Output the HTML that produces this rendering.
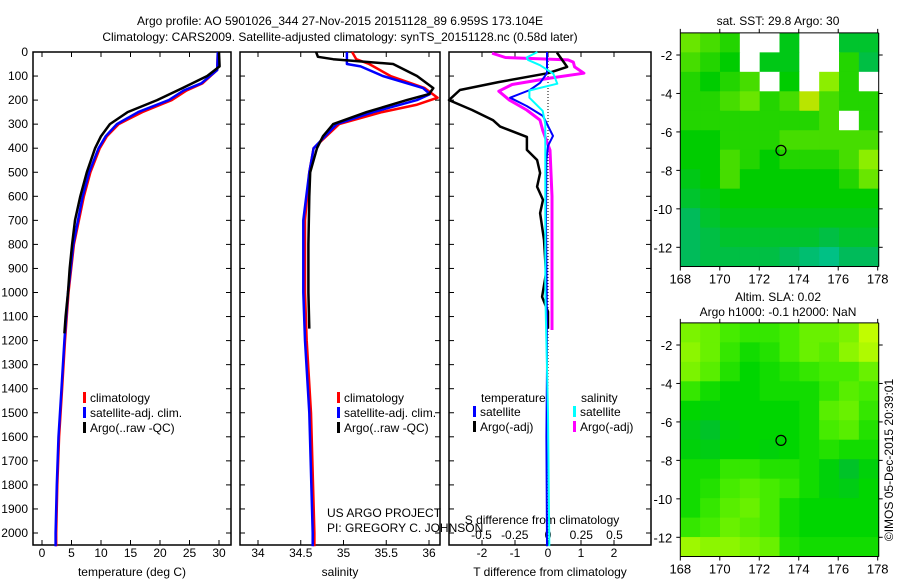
<!DOCTYPE html>
<html><head><meta charset="utf-8"><style>
body{margin:0;background:#fff}
svg{display:block;font-family:"Liberation Sans",sans-serif}
</style></head><body>
<svg id="c" width="900" height="580" viewBox="0 0 900 580" font-size="12"></svg>
<script>
// ---- data ----
const depthTicks=[0,100,200,300,400,500,600,700,800,900,1000,1100,1200,1300,1400,1500,1600,1700,1800,1900,2000];
const tempTicks=[0,5,10,15,20,25,30];
const salTicks=[34,34.5,35,35.5,36];
const tdTicks=[-2,-1,0,1,2];
const sdTicks=[-0.5,-0.25,0,0.25,0.5];
const tClimD=[0,75,130,160,200,250,300,350,400,500,600,800,1000,1200,1400,1600,1800,2000,2055];
const tClim=[29.8,29.7,27.2,24.5,22,17,13,11,9.8,8.2,7.1,5.4,4.5,3.9,3.4,2.9,2.6,2.4,2.4];
const tSatD=[0,75,130,160,200,250,300,350,400,500,600,800,1000,1200,1400,1600,1800,2000,2055];
const tSat=[29.8,29.7,27,24,21.5,16.3,12.7,10.8,9.6,8.0,6.9,5.3,4.4,3.8,3.3,2.8,2.5,2.3,2.3];
const tArgoD=[0,60,100,150,200,250,300,350,400,500,600,700,800,900,1000,1100,1170];
const tArgo=[30,30.1,28,23.8,19.5,14.5,11.5,10,9,7.6,6.5,5.6,5.1,4.7,4.4,4.0,3.8];
const sClimD=[0,30,50,100,150,190,220,250,300,400,500,700,1000,1200,1500,2000,2055];
const sClim=[35.1,35.15,35.3,35.55,35.95,36.1,35.85,35.45,34.95,34.65,34.6,34.55,34.55,34.57,34.62,34.66,34.66];
const sSatD=[0,50,60,100,150,175,200,250,300,400,500,700,1000,1200,1500,2000,2055];
const sSat=[35.04,35.04,35.2,35.46,35.93,36.01,35.86,35.35,34.92,34.65,34.6,34.53,34.53,34.55,34.6,34.64,34.64];
const sArgoD=[0,20,30,50,100,150,175,200,250,300,350,400,500,600,800,1000,1150];
const sArgo=[34.68,34.7,34.88,35.58,35.86,36.05,36.0,35.74,35.27,34.88,34.76,34.69,34.61,34.6,34.59,34.59,34.6];
const dTArgoD=[2,62,88,125,158,200,241,283,310,353,407,449,503,560,615,670,781,920,1018,1080,1150];
const dTArgo=[0.27,0.58,0,-1.5,-2.67,-3.0,-2.3,-1.67,-1.45,-0.64,-0.64,-0.33,-0.24,-0.33,-0.15,-0.24,-0.12,-0.06,-0.18,0,0];
const dTSatD=[0,88,128,158,190,225,266,349,390,450,700,1000,1300,1600,2055];
const dTSat=[-0.03,-0.03,-0.24,-0.55,-1.15,-0.64,-0.15,0.15,0,-0.05,-0.06,-0.04,-0.03,-0.05,-0.03];
const dSArgoD=[5,23,33,42,62,88,108,135,163,200,241,283,325,408,600,900,1156];
const dSArgo=[-0.42,-0.32,0.15,0.19,0.2,0.27,0.02,-0.27,-0.37,-0.29,-0.16,-0.06,-0.04,0.015,0.03,0.03,0.03];
const dSSatD=[0,23,33,55,90,132,160,190,245,300,600,1000,1500,2055];
const dSSat=[-0.08,-0.16,-0.15,-0.06,0.04,0.07,-0.14,-0.14,-0.04,-0.02,-0.02,-0.02,0,0.01];
const lonTicks=[168,170,172,174,176,178];
const latTicks=[-2,-4,-6,-8,-10,-12];
const sstGrid=[
[.65,.6,.55,null,null,.45,null,null,.4,.4],
[.6,.55,.5,null,.45,.45,null,null,.55,.35],
[.55,.5,.55,.6,null,.5,null,.7,.55,null],
[.55,.55,.6,.65,.55,.6,.85,.6,.55,.55],
[.55,.55,.55,.55,.55,.55,.55,.6,null,.55],
[.5,.5,.55,.55,.55,.6,.6,.6,.6,.6],
[.5,.5,.6,.55,.5,.55,.55,.55,.6,.7],
[.45,.5,.6,.5,.5,.5,.5,.5,.55,.65],
[.4,.45,.5,.5,.5,.5,.5,.5,.5,.5],
[.3,.4,.45,.45,.45,.45,.45,.45,.45,.45],
[.3,.35,.4,.4,.4,.4,.4,.35,.4,.4],
[.3,.35,.35,.35,.35,.3,.25,.2,.3,.3]];
const slaGrid=[
[.75,.7,.6,.55,.55,.6,.7,.7,.75,.95],
[.8,.7,.55,.45,.5,.6,.7,.65,.8,.9],
[.75,.65,.5,.4,.45,.5,.55,.6,.6,.7],
[.55,.45,.4,.4,.45,.45,.45,.55,.65,.6],
[.4,.35,.4,.4,.4,.4,.45,.65,.7,.55],
[.3,.2,.35,.4,.4,.4,.45,.6,.65,.5],
[.35,.3,.4,.4,.35,.4,.45,.5,.45,.45],
[.45,.45,.55,.55,.5,.5,.45,.35,.2,.35],
[.45,.5,.6,.65,.6,.55,.45,.35,.3,.4],
[.45,.55,.65,.7,.6,.45,.4,.4,.4,.4],
[.55,.6,.7,.65,.6,.45,.4,.4,.4,.4],
[.85,.8,.8,.75,.7,.5,.45,.45,.45,.45]];
const floatLon=173.1, floatLat=-6.96;

// ---- helpers ----
const SV=document.getElementById('c');const NS='http://www.w3.org/2000/svg';
function el(t,a,p){const e=document.createElementNS(NS,t);for(const k in a)e.setAttribute(k,a[k]);(p||SV).appendChild(e);return e;}
function txt(x,y,s,anchor,name,extra){const e=el('text',Object.assign({x:x,y:y,'text-anchor':anchor||'start'},extra||{}));e.textContent=s;


return e;}
const Y=d=>52+d*0.2405;
const pTop=52,pBot=545;
function frame(x0,x1,name){const r=el('rect',{x:x0,y:pTop,width:x1-x0,height:pBot-pTop,fill:'none',stroke:'#000','stroke-width':1.5});


depthTicks.forEach(d=>{el('line',{x1:x0,x2:x0+5,y1:Y(d),y2:Y(d),stroke:'#000'});el('line',{x1:x1-5,x2:x1,y1:Y(d),y2:Y(d),stroke:'#000'});});}
function drawLine(xs,ds,fx,color,name,w){const p=xs.map((v,i)=>(i?'L':'M')+fx(v).toFixed(1)+','+Y(ds[i]).toFixed(1)).join('');
const e=el('path',{d:p,fill:'none',stroke:color,'stroke-width':w||2.5,'stroke-linejoin':'round'});

}
function xticks(ticks,fx,yb,name){ticks.forEach(t=>{el('line',{x1:fx(t),x2:fx(t),y1:pBot,y2:pBot-5,stroke:'#000'});el('line',{x1:fx(t),x2:fx(t),y1:pTop,y2:pTop+5,stroke:'#000'});txt(fx(t),yb,String(t),'middle',name);});}
function legItem(x,y,color,label,name){const r=el('rect',{x:x,y:y-6,width:3,height:11,fill:color});


txt(x+7,y+4,label,'start',name);}

// titles
txt(340,25,'Argo profile: AO 5901026_344 27-Nov-2015 20151128_89 6.959S 173.104E','middle','title-line-1');
txt(340,41,'Climatology: CARS2009. Satellite-adjusted climatology: synTS_20151128.nc (0.58d later)','middle','title-line-2');

// panel 1 temperature
const fT=v=>42+v*5.9;
frame(33,231,'temperature-panel');
depthTicks.forEach(d=>txt(28,Y(d)+4,String(d),'end','depth-tick-label'));
xticks(tempTicks,fT,557,'temperature-tick-label');
txt(132,576,'temperature (deg C)','middle','temperature-axis-title');
drawLine(tClim,tClimD,fT,'#ff0000','temp-climatology-line');
drawLine(tSat,tSatD,fT,'#0000ff','temp-satellite-line');
drawLine(tArgo,tArgoD,fT,'#000','temp-argo-line');
legItem(83,398,'#f00','climatology','legend-climatology');
legItem(83,413,'#00f','satellite-adj. clim.','legend-satellite-adj');
legItem(83,428,'#000','Argo(..raw -QC)','legend-argo');

// panel 2 salinity
const fS=v=>258+(v-34)*85.5;
frame(240,440,'salinity-panel');
xticks(salTicks,fS,557,'salinity-tick-label');
txt(340,576,'salinity','middle','salinity-axis-title');
drawLine(sClim,sClimD,fS,'#ff0000','sal-climatology-line');
drawLine(sSat,sSatD,fS,'#0000ff','sal-satellite-line');
drawLine(sArgo,sArgoD,fS,'#000','sal-argo-line');
legItem(337,398,'#f00','climatology','legend-climatology-2');
legItem(337,413,'#00f','satellite-adj. clim.','legend-satellite-adj-2');
legItem(337,428,'#000','Argo(..raw -QC)','legend-argo-2');
txt(327,517,'US ARGO PROJECT','start','project-label');
txt(327,532,'PI: GREGORY C. JOHNSON','start','pi-label');

// panel 3 differences
const fdT=v=>548+v*33, fdS=v=>548+v*133;
frame(449,651,'difference-panel');
el('line',{x1:548,x2:548,y1:pTop,y2:pBot,stroke:'#000','stroke-dasharray':'1,2'});
tdTicks.forEach(t=>{el('line',{x1:fdT(t),x2:fdT(t),y1:pBot,y2:pBot-5,stroke:'#000'});el('line',{x1:fdT(t),x2:fdT(t),y1:pTop,y2:pTop+5,stroke:'#000'});txt(fdT(t),557,String(t),'middle','t-diff-tick-label');});
sdTicks.forEach(t=>txt(fdS(t),539,String(t),'middle','s-diff-tick-label'));
txt(542,524,'S difference from climatology','middle','s-diff-axis-title');
txt(550,576,'T difference from climatology','middle','t-diff-axis-title');
drawLine(dSArgo,dSArgoD,fdS,'#ff00ff','s-diff-argo-line',3);
drawLine(dTArgo,dTArgoD,fdT,'#000','t-diff-argo-line',2.5);
drawLine(dTSat,dTSatD,fdT,'#0000ff','t-diff-satellite-line',2);
drawLine(dSSat,dSSatD,fdS,'#00ffff','s-diff-satellite-line',2);
txt(481,402,'temperature','start','legend-temperature-header');
txt(581,402,'salinity','start','legend-salinity-header');
legItem(473,412,'#00f','satellite','legend-t-satellite');
legItem(473,427,'#000','Argo(-adj)','legend-t-argo');
legItem(573,412,'#0ff','satellite','legend-s-satellite');
legItem(573,427,'#f0f','Argo(-adj)','legend-s-argo');

// maps
function lerp(a,b,t){return a.map((v,i)=>Math.round(v+(b[i]-v)*t));}
function sstColor(v){const stops=[[0,[0,204,220]],[0.3,[0,187,90]],[0.5,[0,204,0]],[0.7,[140,238,0]],[1,[230,220,0]]];
for(let i=1;i<stops.length;i++)if(v<=stops[i][0]){const t=(v-stops[i-1][0])/(stops[i][0]-stops[i-1][0]);return 'rgb('+lerp(stops[i-1][1],stops[i][1],t)+')';}return 'rgb(230,220,0)';}
function slaColor(v){const stops=[[0,[0,176,80]],[0.4,[0,214,0]],[0.6,[70,236,0]],[1,[210,255,0]]];
for(let i=1;i<stops.length;i++)if(v<=stops[i][0]){const t=(v-stops[i-1][0])/(stops[i][0]-stops[i-1][0]);return 'rgb('+lerp(stops[i-1][1],stops[i][1],t)+')';}return 'rgb(210,255,0)';}
function drawMap(grid,yTop,colorFn,name){
 const fx=lon=>680.3+(lon-168)*19.74, fy=lat=>yTop+22+(-2-lat)*19.23;
 const latTop=-0.85, latBot=-13;
 const g=el('g',{});
 const nr=grid.length,nc=grid[0].length;
 grid.forEach((row,r)=>row.forEach((v,c)=>{const la0=latTop+(latBot-latTop)*r/nr,la1=latTop+(latBot-latTop)*(r+1)/nr;
  const x0=fx(168+10.05*c/nc),x1=fx(168+10.05*(c+1)/nc);
  const cell=el('rect',{x:x0,y:fy(la0),width:x1-x0+0.5,height:fy(la1)-fy(la0)+0.5,fill:v===null?'#fff':colorFn(v)},g);
  
  }));
 const x0=fx(168),x1=fx(178.05),y0=fy(latTop),y1=fy(latBot);
 el('line',{x1:x0,x2:x1,y1:y0,y2:y0,stroke:'#000'});el('line',{x1:x0,x2:x1,y1:y1,y2:y1,stroke:'#000'});
 el('line',{x1:x0,x2:x0,y1:y0,y2:y1,stroke:'#000'});el('line',{x1:x1,x2:x1,y1:y0,y2:y1,stroke:'#000'});
 lonTicks.forEach(l=>{el('line',{x1:fx(l),x2:fx(l),y1:y1,y2:y1+4,stroke:'#000'});el('line',{x1:fx(l),x2:fx(l),y1:y0,y2:y0-4,stroke:'#000'});txt(fx(l),y1+17,String(l),'middle','longitude-tick-label',{'font-size':13});});
 latTicks.forEach(l=>{el('line',{x1:x0-4,x2:x0,y1:fy(l),y2:fy(l),stroke:'#000'});el('line',{x1:x1,x2:x1+4,y1:fy(l),y2:fy(l),stroke:'#000'});txt(x0-8,fy(l)+5,String(l),'end','latitude-tick-label',{'font-size':13});});
 const c=el('circle',{cx:fx(floatLon),cy:fy(floatLat),r:5,fill:'none',stroke:'#000','stroke-width':1.2});
 
 
}
drawMap(sstGrid,33,sstColor,'sst-map');
drawMap(slaGrid,323,slaColor,'sla-map');
txt(778,25,'sat. SST: 29.8 Argo: 30','middle','sst-map-title');
txt(778,301,'Altim. SLA: 0.02','middle','sla-map-title');
txt(778,316,'Argo h1000: -0.1 h2000: NaN','middle','sla-map-subtitle');
txt(0,0,'©IMOS 05-Dec-2015 20:39:01','middle','timestamp-label',{transform:'translate(893,460) rotate(-90)'});
</script>
</body></html>
